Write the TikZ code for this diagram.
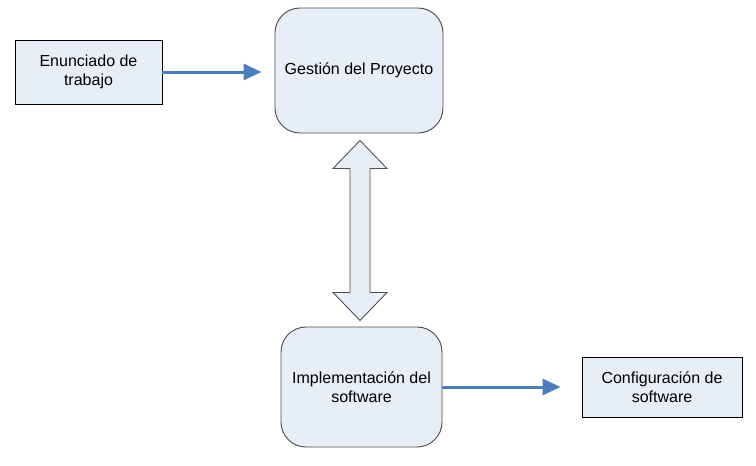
\documentclass[tikz,border=0pt]{standalone}
\usepackage{fontspec}
\setmainfont{Liberation Sans}
\usetikzlibrary{arrows.meta,calc}
\definecolor{boxfill}{HTML}{E8EEF7}
\definecolor{arrowblue}{HTML}{4A7EBB}
\definecolor{roundborder}{HTML}{4D4D4D}
\tikzset{
  plainbox/.style={draw=black, line width=0.65pt, fill=boxfill, align=center, inner sep=0pt, font=\fontsize{12pt}{14pt}\selectfont},
  roundbox/.style={draw=roundborder, line width=0.7pt, fill=boxfill, rounded corners=18.75pt, align=center, inner sep=0pt, font=\fontsize{12pt}{14pt}\selectfont},
  flowarrow/.style={draw=arrowblue, line width=2.25pt, -{Triangle[length=13.5pt,width=12pt]}},
  blockarrow/.style={draw=roundborder, line width=0.65pt, fill=boxfill, line join=miter}
}
\begin{document}
\begin{tikzpicture}[x=0.75pt,y=-0.75pt]
\useasboundingbox (0,0) rectangle (756,465);
\fill[white] (0,0) rectangle (756,465);
\node[plainbox, minimum width=110.25pt, minimum height=48pt] (e) at (88.5,72) {Enunciado de\\trabajo};
\node[roundbox, minimum width=126pt, minimum height=93.75pt] (g) at (359,70.5) {Gestión del Proyecto};
\node[roundbox, minimum width=120.75pt, minimum height=90pt] (i) at (361.5,387) {Implementación del\\software};
\node[plainbox, minimum width=120pt, minimum height=45pt] (c) at (662,387) {Configuración de\\software};
\draw[flowarrow, shorten >=9.75pt] (e.east) -- (e.east -| g.west);
\draw[flowarrow, shorten >=15.75pt] (i.east) -- (c.west);
\draw[blockarrow]
  ($(g.south)+(1,7)$) -- ++(27,28) -- ++(-17,0) -- ++(0,124) -- ++(17,0)
  -- ++(-27,28) -- ++(-27,-28) -- ++(17,0) -- ++(0,-124) -- ++(-17,0) -- cycle;
\end{tikzpicture}
\end{document}
